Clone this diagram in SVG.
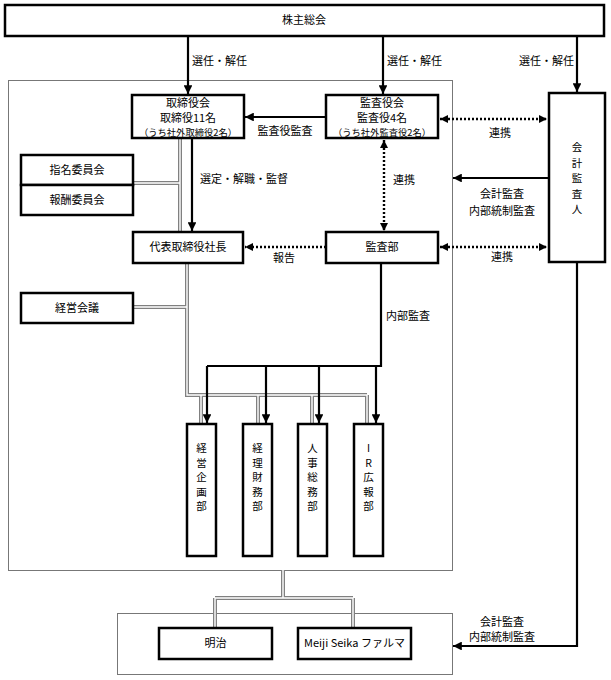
<svg xmlns="http://www.w3.org/2000/svg" width="611" height="680" viewBox="0 0 611 680">
<defs>
<marker id="ah" viewBox="0 0 10 10" refX="10" refY="5" markerWidth="4" markerHeight="4" orient="auto-start-reverse" markerUnits="strokeWidth">
<path d="M0,0 L10,5 L0,10 z" fill="#000"/>
</marker>
<marker id="ahd" viewBox="0 0 10 10" refX="10" refY="5" markerWidth="3.5" markerHeight="3.5" orient="auto-start-reverse" markerUnits="strokeWidth">
<path d="M0,0 L10,5 L0,10 z" fill="#000"/>
</marker>
<style>
text{font-family:"Noto Sans CJK JP","Noto Sans",sans-serif;font-size:11px;fill:#000}
.c{text-anchor:middle}
.s{font-size:9.3px}
.v{font-size:10.5px}
.box{fill:#fff;stroke:#000;stroke-width:2.5}
.cont{fill:#fff;stroke:#777;stroke-width:1}
.g1{fill:none;stroke:#808080;stroke-width:4}
.g2{fill:none;stroke:#fff;stroke-width:1.4}
.ar{fill:none;stroke:#000;stroke-width:2.2}
.dt{fill:none;stroke:#000;stroke-width:2.4;stroke-dasharray:2 2}
</style>
</defs>
<rect width="611" height="680" fill="#fff"/>

<g id="containers">
<rect id="company" class="cont" x="8.5" y="80.5" width="444" height="490"/>
<rect id="group" class="cont" x="117.5" y="613.5" width="335" height="61"/>
</g>

<g id="connectors">
<g id="double-lines">
<path class="g1" d="M180,138 V232 M133,183 H180 M187,263 V395 H367 M133,307 H187 M201,395 V424 M258,395 V424 M312,395 V424 M367,395 V424 M283,570 V598 M215,598 H353 M215,598 V628 M353,598 V628"/>
<path class="g2" d="M180,138 V232 M133,183 H180 M187,263 V395 H367 M133,307 H187 M201,395 V424 M258,395 V424 M312,395 V424 M367,395 V424 M283,570 V598 M215,598 H353 M215,598 V628 M353,598 V628"/>
</g>
<path class="ar" d="M188,36 V94" marker-end="url(#ah)"/>
<path class="ar" d="M383,36 V94" marker-end="url(#ah)"/>
<path class="ar" d="M577,36 V92" marker-end="url(#ah)"/>
<path class="ar" d="M326,117 H245" marker-end="url(#ah)"/>
<path class="ar" d="M192,138 V231" marker-end="url(#ah)"/>
<path class="ar" d="M548,178 H453" marker-end="url(#ah)"/>
<path class="ar" d="M381,263 V366 H207"/>
<path class="ar" d="M207,366 V423" marker-end="url(#ah)"/>
<path class="ar" d="M266,366 V423" marker-end="url(#ah)"/>
<path class="ar" d="M319,366 V423" marker-end="url(#ah)"/>
<path class="ar" d="M376,366 V423" marker-end="url(#ah)"/>
<path class="ar" d="M577,262 V646 H453" marker-end="url(#ah)"/>
<path class="dt" d="M440,119 H547" marker-start="url(#ahd)" marker-end="url(#ahd)"/>
<path class="dt" d="M440,247 H547" marker-start="url(#ahd)" marker-end="url(#ahd)"/>
<path class="dt" d="M384,140 V231" marker-start="url(#ahd)" marker-end="url(#ahd)"/>
<path class="dt" d="M326,247 H245" marker-end="url(#ahd)"/>
<text x="192" y="65">選任・解任</text>
<text x="387" y="65">選任・解任</text>
<text x="574" y="65" text-anchor="end">選任・解任</text>
<text class="c" x="285" y="135">監査役監査</text>
<text class="c" x="500" y="137">連携</text>
<text x="200" y="183">選定・解職・監督</text>
<text x="393" y="184">連携</text>
<text class="c" x="502" y="198">会計監査</text>
<text class="c" x="502" y="215">内部統制監査</text>
<text class="c" x="284" y="262">報告</text>
<text class="c" x="502" y="261">連携</text>
<text x="386" y="320">内部監査</text>
<text class="c" x="502" y="626">会計監査</text>
<text class="c" x="502" y="641">内部統制監査</text>
</g>

<g id="shareholders">
<rect class="box" x="5" y="5" width="599" height="31"/>
<text class="c" x="304" y="24">株主総会</text>
</g>

<g id="board">
<rect class="box" x="132" y="95" width="112" height="43"/>
<text class="c" x="188" y="107">取締役会</text>
<text class="c" x="188" y="122">取締役11名</text>
<text class="c s" x="188" y="135.5">（うち社外取締役2名）</text>
</g>

<g id="auditors">
<rect class="box" x="326" y="95" width="112" height="43"/>
<text class="c" x="382" y="107">監査役会</text>
<text class="c" x="382" y="122">監査役4名</text>
<text class="c s" x="382" y="135.5">（うち社外監査役2名）</text>
</g>

<g id="accounting-auditor">
<rect class="box" x="549" y="93" width="56" height="169"/>
<text class="c v" x="577" y="151">会</text>
<text class="c v" x="577" y="166.5">計</text>
<text class="c v" x="577" y="182">監</text>
<text class="c v" x="577" y="197.5">査</text>
<text class="c v" x="577" y="213">人</text>
</g>

<g id="nomination">
<rect class="box" x="21" y="155" width="112" height="30"/>
<text class="c" x="77" y="174">指名委員会</text>
</g>
<g id="compensation">
<rect class="box" x="21" y="185" width="112" height="30"/>
<text class="c" x="77" y="204">報酬委員会</text>
</g>

<g id="president">
<rect class="box" x="133" y="232" width="110" height="31"/>
<text class="c" x="188" y="251">代表取締役社長</text>
</g>

<g id="internal-audit">
<rect class="box" x="326" y="232" width="112" height="31"/>
<text class="c" x="382" y="251">監査部</text>
</g>

<g id="management-meeting">
<rect class="box" x="21" y="293" width="112" height="30"/>
<text class="c" x="77" y="312">経営会議</text>
</g>

<g id="dept-planning">
<rect class="box" x="187" y="424" width="29" height="132"/>
<text class="c v" x="201.5" y="452">経</text>
<text class="c v" x="201.5" y="466.5">営</text>
<text class="c v" x="201.5" y="481">企</text>
<text class="c v" x="201.5" y="495.5">画</text>
<text class="c v" x="201.5" y="510">部</text>
</g>
<g id="dept-finance">
<rect class="box" x="243" y="424" width="29" height="132"/>
<text class="c v" x="257.5" y="452">経</text>
<text class="c v" x="257.5" y="466.5">理</text>
<text class="c v" x="257.5" y="481">財</text>
<text class="c v" x="257.5" y="495.5">務</text>
<text class="c v" x="257.5" y="510">部</text>
</g>
<g id="dept-hr">
<rect class="box" x="298" y="424" width="29" height="132"/>
<text class="c v" x="312.5" y="452">人</text>
<text class="c v" x="312.5" y="466.5">事</text>
<text class="c v" x="312.5" y="481">総</text>
<text class="c v" x="312.5" y="495.5">務</text>
<text class="c v" x="312.5" y="510">部</text>
</g>
<g id="dept-ir">
<rect class="box" x="354" y="424" width="29" height="132"/>
<text class="c v" x="368.5" y="452">I</text>
<text class="c v" x="368.5" y="466.5">R</text>
<text class="c v" x="368.5" y="481">広</text>
<text class="c v" x="368.5" y="495.5">報</text>
<text class="c v" x="368.5" y="510">部</text>
</g>

<g id="meiji">
<rect class="box" x="159" y="628" width="113" height="31"/>
<text class="c" x="215.5" y="647">明治</text>
</g>
<g id="meiji-seika">
<rect class="box" x="298" y="628" width="113" height="31"/>
<text class="c" x="354.5" y="647">Meiji Seika ファルマ</text>
</g>
</svg>
